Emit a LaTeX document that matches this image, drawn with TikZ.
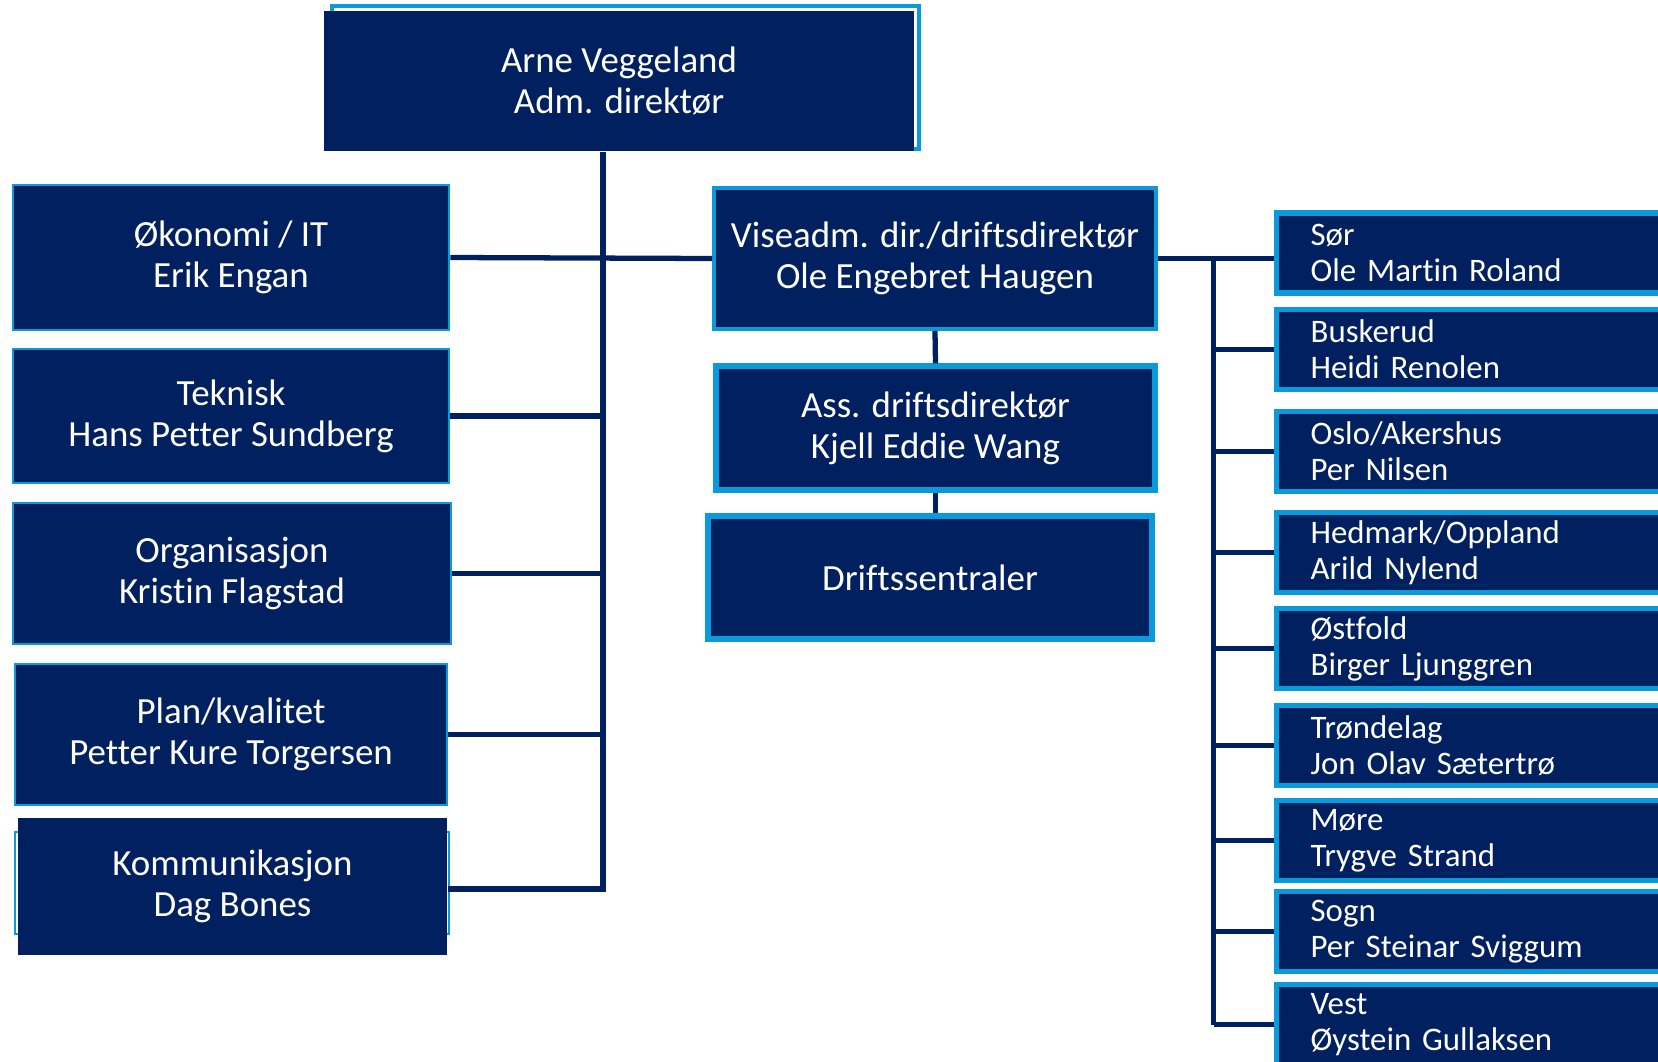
\documentclass[tikz,border=0pt]{standalone}
\usepackage{fontspec}
\setmainfont{Carlito}[Ligatures=NoCommon]
\usetikzlibrary{positioning,calc}
\definecolor{navy}{HTML}{002060}
\definecolor{lightblue}{HTML}{0A9AD9}
\tikzset{
    unitbox/.style={fill=navy, draw=lightblue, line width=1.5pt, text=white, align=center,
        inner sep=0pt, font=\fontsize{21}{23.3}\selectfont},
    thickbox/.style={unitbox, line width=3pt},
    plainbox/.style={unitbox, draw=none},
    regbox/.style={fill=navy, draw=lightblue, line width=3pt, text=white, align=left, anchor=west,
        inner xsep=0.68cm, inner ysep=0pt, text width=7cm, minimum height=1.6cm,
        font=\fontsize{18.7}{20.4}\selectfont},
    conn/.style={draw=navy, line width=3pt}
}

\begin{document}
\begin{tikzpicture}[x=0.02cm, y=-0.02cm]
\path[use as bounding box, clip] (0,0) rectangle (1658,1062);

\draw[lightblue, line width=2pt] (332,6) rectangle (919,149);
\node[plainbox, minimum width=11.8cm, minimum height=2.8cm] (chief) at (619,81) {Arne Veggeland\\Adm. direktør};

\node[unitbox, minimum width=8.72cm, minimum height=2.9cm] (okonomi) at (231,257.5) {Økonomi / IT\\Erik Engan};
\node[unitbox, minimum width=8.72cm, minimum height=2.68cm] (teknisk) at (231,416) {Teknisk\\Hans Petter Sundberg};
\node[unitbox, minimum width=8.76cm, minimum height=2.82cm] (organisasjon) at (232,573.5) {Organisasjon\\Kristin Flagstad};
\node[unitbox, minimum width=8.64cm, minimum height=2.82cm] (plan) at (231,734.5) {Plan/kvalitet\\Petter Kure Torgersen};
\draw[lightblue, line width=1.5pt] (15,832) rectangle (449,934);
\node[plainbox, minimum width=8.58cm, minimum height=2.74cm] (kommunikasjon) at (232.5,886.5) {Kommunikasjon\\Dag Bones};

\node[unitbox, line width=2.2pt, minimum width=8.84cm, minimum height=2.82cm] (vise) at (935,258.5) {Viseadm. dir./driftsdirektør\\Ole Engebret Haugen};
\node[thickbox, minimum width=8.78cm, minimum height=2.48cm] (ass) at (935.5,428) {Ass. driftsdirektør\\Kjell Eddie Wang};
\node[thickbox, minimum width=8.88cm, minimum height=2.46cm] (drift) at (930,577.5) {Driftssentraler};

\foreach \name/\y/\txt in {sor/253/{Sør\\Ole Martin Roland},
    busk/349.5/{Buskerud\\Heidi Renolen},
    oslo/451.5/{Oslo/Akershus\\Per Nilsen},
    hedm/552.5/{Hedmark/Oppland\\Arild Nylend},
    ostf/648.5/{Østfold\\Birger Ljunggren},
    trond/745.5/{Trøndelag\\Jon Olav Sætertrø},
    more/840.5/{Møre\\Trygve Strand},
    sogn/931.5/{Sogn\\Per Steinar Sviggum},
    vest/1024.5/{Vest\\Øystein Gullaksen}}
    \node[regbox] (\name) at (1274,\y) {\txt};

\coordinate (trunk) at (603,889);
\draw[conn] (chief.south -| trunk) -- (trunk) -- (trunk -| kommunikasjon.east);
\draw[conn] (okonomi.east) -- (vise.west);
\foreach \d in {teknisk,organisasjon,plan}
    \draw[conn] (\d.east) -- (\d.east -| trunk);

\draw[conn] (vise.south) -- (ass.north);
\draw[conn] (ass.south) -- (ass.south |- drift.north);

\coordinate (bus) at ($(vise.east)!0.48!(vise.east -| sor.west)$);
\draw[conn] (vise.east) -- (vise.east -| sor.west);
\draw[conn] (bus) -- (bus |- vest.west);
\foreach \r in {busk,oslo,hedm,ostf,trond,more,sogn,vest}
    \draw[conn] (bus |- \r.west) -- (\r.west);
\end{tikzpicture}
\end{document}
